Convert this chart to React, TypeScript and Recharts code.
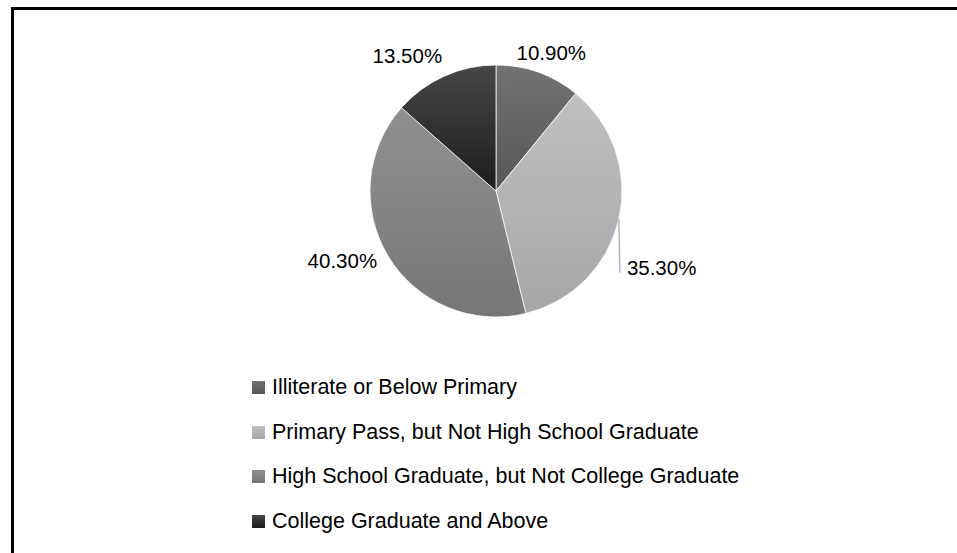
import React from "react";
import { PieChart, Pie, Cell, Legend } from "recharts";

// education level split
const categories = [
  "Illiterate or Below Primary",
  "Primary Pass, but Not High School Graduate",
  "High School Graduate, but Not College Graduate",
  "College Graduate and Above",
];
const shares = [10.9, 35.3, 40.3, 13.5];

// gradient stops per slice (top, bottom)
const SLICE_TOP = ["#727272", "#c0c0c0", "#909090", "#474747"];
const SLICE_BOTTOM = ["#575757", "#a6a6a6", "#767676", "#1c1c1c"];

// nudges relative to the slice's outer-edge midpoint
const LABEL_LAYOUT = [
  { anchor: "middle", dx: 13, dy: -12, leader: 0 },
  { anchor: "start", dx: 8, dy: 56, leader: 54 },
  { anchor: "end", dx: -11, dy: 12, leader: 0 },
  { anchor: "end", dx: -2, dy: -13, leader: 0 },
];

const FONT = "'Liberation Sans', Arial, sans-serif";
const RAD = Math.PI / 180;

const data = categories.map((name, i) => ({ name, value: shares[i] }));

function renderLabel(props: any) {
  const { cx, cy, midAngle, outerRadius, index, value } = props;
  const ex = cx + outerRadius * Math.cos(-midAngle * RAD);
  const ey = cy + outerRadius * Math.sin(-midAngle * RAD);
  const lay = LABEL_LAYOUT[index];
  return (
    <g key={`lbl-${index}`}>
      {lay.leader > 0 && (
        <line
          x1={ex}
          y1={ey}
          x2={ex + 1}
          y2={ey + lay.leader}
          stroke="#a9b9d0"
          strokeWidth={1.5}
        />
      )}
      <text
        x={ex + lay.dx}
        y={ey + lay.dy}
        textAnchor={lay.anchor}
        fill="#000"
        fontSize={20.5}
        fontFamily={FONT}
      >
        {`${value.toFixed(2)}%`}
      </text>
    </g>
  );
}

function LegendBox() {
  return (
    <div style={{ fontFamily: FONT, fontSize: 21.5, color: "#000" }}>
      {categories.map((name, i) => (
        <div
          key={name}
          style={{ display: "flex", alignItems: "center", height: 44.7 }}
        >
          <svg width={13} height={13} style={{ marginRight: 7 }}>
            <rect width={13} height={13} fill={`url(#grad-${i})`} />
          </svg>
          <span>{name}</span>
        </div>
      ))}
    </div>
  );
}

export default function App() {
  return (
    <div
      style={{
        position: "absolute",
        left: 0,
        top: 0,
        width: 957,
        height: 553,
        background: "#fff",
        overflow: "hidden",
      }}
    >
      <div
        style={{
          position: "absolute",
          left: 11,
          top: 7,
          width: 1000,
          height: 600,
          borderTop: "3px solid #000",
          borderLeft: "3px solid #000",
        }}
      />
      <div style={{ position: "absolute", left: 0, top: 0 }}>
        <PieChart width={957} height={553}>
          <defs>
            {categories.map((_, i) => (
              <linearGradient
                key={i}
                id={`grad-${i}`}
                x1="0"
                y1="0"
                x2="0"
                y2="1"
              >
                <stop offset="0%" stopColor={SLICE_TOP[i]} />
                <stop offset="100%" stopColor={SLICE_BOTTOM[i]} />
              </linearGradient>
            ))}
          </defs>
          <Pie
            data={data}
            dataKey="value"
            nameKey="name"
            cx={491}
            cy={186}
            outerRadius={126}
            startAngle={90}
            endAngle={-270}
            stroke="#fff"
            strokeWidth={0.75}
            label={renderLabel}
            labelLine={false}
            isAnimationActive={false}
          >
            {data.map((d, i) => (
              <Cell key={d.name} fill={`url(#grad-${i})`} />
            ))}
          </Pie>
          <Legend
            content={() => <LegendBox />}
            wrapperStyle={{
              position: "absolute",
              left: 252,
              top: 365,
              width: "auto",
            }}
          />
        </PieChart>
      </div>
    </div>
  );
}
